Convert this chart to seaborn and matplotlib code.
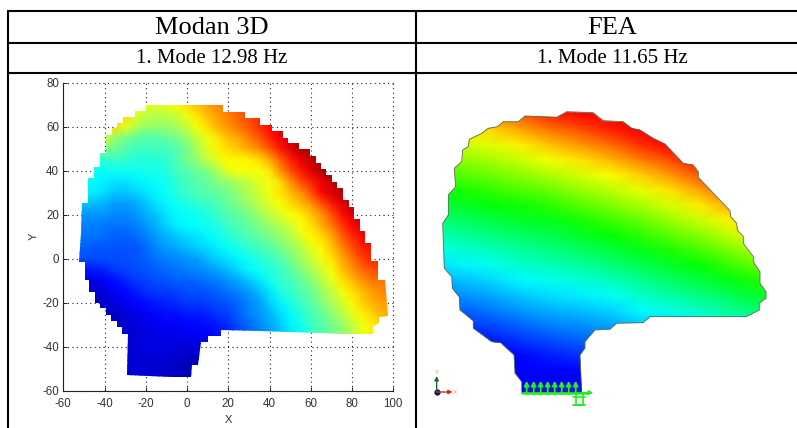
import numpy as np
import pandas as pd
import seaborn as sns
import matplotlib
matplotlib.use("Agg")
import matplotlib.pyplot as plt
from matplotlib.colors import LinearSegmentedColormap
from matplotlib.lines import Line2D
from matplotlib.path import Path

W, H = 797, 428

headers = ["Modan 3D", "FEA"]
subheaders = ["1. Mode 12.98 Hz", "1. Mode 11.65 Hz"]

left_x = list(range(-55, 101, 5))
left_y = list(range(75, -56, -5))
left_values = [
    [60,60,60,60,60,60,60,59,60,60, 62,66,69,72,74,76,78,80,82,84, 86,88,90,92,92,92,92,92,92,92, 92,92],
    [60,60,60,60,60,60,60,59,60,60, 62,66,69,72,74,76,78,80,82,84, 86,88,90,92,92,92,92,92,92,92, 92,92],
    [62,62,62,62,65,66,60,56,55,56, 57,61,65,69,72,75,78,80,83,86, 88,90,92,92,92,92,92,92,92,92, 92,92],
    [60,60,60,62,66,60,55,52,52,52, 54,57,62,66,70,73,76,79,83,87, 90,92,93,93,93,93,93,93,93,93, 93,93],
    [58,58,58,58,52,49,47,46,46,47, 49,53,57,61,65,69,71,75,79,84, 88,92,95,95,95,95,95,95,95,95, 95,95],
    [50,50,50,50,48,46,44,43,44,44, 46,49,54,59,64,66,68,71,74,79, 85,90,95,96,96,96,96,96,96,96, 96,96],
    [42,42,42,42,43,42,41,41,41,42, 45,49,52,57,60,63,63,64,66,71, 78,84,89,93,96,96,96,96,96,96, 96,96],
    [38,38,38,38,39,39,39,40,40,41, 44,46,48,50,55,60,62,62,62,65, 73,80,85,90,95,97,97,97,97,97, 97,97],
    [38,38,37,36,35,35,36,37,38,39, 42,44,46,48,50,52,55,57,60,61, 66,73,80,84,89,93,96,96,96,96, 96,96],
    [36,36,36,34,32,32,33,35,37,39, 41,43,45,46,47,49,52,55,58,61, 65,69,73,79,87,91,94,96,96,96, 96,96],
    [32,32,31,30,28,28,29,32,35,37, 39,40,42,43,45,48,50,53,56,59, 62,66,69,73,79,85,90,94,95,95, 95,95],
    [27,27,27,27,26,26,27,30,32,35, 37,38,39,41,43,45,47,49,53,56, 59,62,64,68,73,79,86,91,94,94, 94,94],
    [25,25,25,24,24,24,25,27,30,33, 36,37,38,39,41,43,45,47,50,52, 55,58,62,65,70,75,82,87,90,90, 90,90],
    [24,24,24,23,22,22,23,25,28,30, 32,34,35,37,39,41,43,45,47,49, 52,55,59,63,66,71,78,83,87,89, 89,89],
    [22,22,21,21,21,21,21,23,26,28, 29,31,33,34,36,38,40,42,44,46, 49,52,55,60,63,68,74,80,84,87, 87,87],
    [20,20,20,20,20,20,21,22,24,25, 26,27,28,31,33,35,37,39,41,43, 45,49,53,57,61,65,71,76,81,84, 84,84],
    [14,14,15,16,18,19,20,21,22,23, 24,25,26,27,29,31,34,37,39,41, 43,46,50,54,58,62,68,73,77,80, 80,80],
    [10,10,10,12,14,16,18,19,20,21, 22,22,23,24,25,27,29,32,35,39, 42,44,47,50,55,60,65,69,73,76, 76,76],
    [7,7,7,9,12,13,15,17,18,18, 19,20,20,21,22,24,26,28,31,35, 40,42,45,48,52,56,61,65,69,72, 74,74],
    [5,5,5,6,9,11,13,14,15,16, 17,18,18,19,20,21,23,26,28,33, 36,40,43,46,50,54,58,63,67,70, 72,72],
    [6,6,6,6,6,8,10,12,13,14, 14,15,15,16,18,19,22,25,27,30, 34,37,41,44,47,51,55,60,64,67, 70,70],
    [7,7,7,7,7,7,9,10,11,12, 12,13,13,14,15,17,20,23,26,29, 32,36,39,43,46,49,52,56,61,64, 68,68],
    [8,8,8,8,8,8,8,9,10,10, 10,11,11,12,14,16,19,22,25,28, 31,35,38,42,45,48,51,55,60,64, 68,68],
    [8,8,8,8,8,8,8,9,9,9, 9,8,9,10,12,14,17,20,23,26, 29,33,36,40,43,46,49,53,58,62, 66,66],
    [8,8,8,8,8,8,8,8,8,8, 7,6,6,7,10,12,15,18,21,24, 27,31,34,38,41,44,47,51,56,60, 64,64],
    [8,8,8,8,8,8,8,8,7,7, 6,4,3,5,8,10,13,16,19,22, 25,29,32,36,39,42,45,49,54,58, 62,62],
    [8,8,8,8,8,8,8,8,7,7, 6,4,3,5,8,10,13,16,19,22, 25,29,32,36,39,42,45,49,54,58, 62,62],
]
left_outline_x = [-20, 17.2, 17.2, 28, 28, 35.3, 35.3, 41, 41, 46.6, 46.6, 49, 49, 54.2, 54.2, 59.6, 59.6,
                  62.3, 62.3, 65, 65, 67.6, 67.6, 70.3, 70.3, 72.8, 72.8, 75.7, 75.7, 78.4, 78.4, 81, 81,
                  83.8, 83.8, 86.5, 86.5, 89.4, 89.4, 92.7, 92.7, 95.9, 97.5, 93.1, 93.1, 90.2, 90.2, 76.5,
                  64.4, 49.9, 35.3, 16.3, 16.3, 10.3, 10.3, 6.7, 5.4, 2.2, 1.9, -7.5, -18.3, -29, -28.7,
                  -31.4, -31.4, -34.2, -34.2, -36.9, -36.9, -39.5, -39.5, -42.2, -42.2, -44.7, -44.7, -47.4,
                  -47.4, -49.7, -49.7, -52.2, -51.4, -50.8, -47.9, -47.9, -45, -45, -42.2, -42.2, -39.5,
                  -39.5, -36.6, -36.6, -33.8, -33.8, -31.2, -31.2, -25.3, -25.3, -20, -20]
left_outline_y = [70, 70, 66.8, 66.8, 63.8, 63.8, 61, 61, 58, 58, 55, 55, 52.4, 52.4, 49.7, 49.7, 46.7,
                  46.7, 43.6, 43.6, 41, 41, 38, 38, 35, 35, 32, 32, 26.7, 26.7, 23.6, 23.6, 18,
                  18, 12.7, 12.7, 7.3, 7.3, -1, -1, -9.7, -9.7, -26, -26.7, -29.4, -30.5, -34.2, -34.2,
                  -33.6, -33.2, -32.7, -32.4, -35, -35, -37.7, -37.7, -48.3, -48.3, -53.6, -53.6, -53.2, -52.7, -34,
                  -34, -30.9, -30.9, -28.3, -28.3, -25.6, -25.6, -22.6, -22.6, -20.3, -20.3, -15, -15,
                  -9.7, -9.7, -1.4, -1.4, 11.5, 25.5, 25.5, 36.5, 36.5, 41.8, 41.8, 47.9, 47.9,
                  56.2, 56.2, 59.2, 59.2, 61.5, 61.5, 64.2, 64.2, 67.1, 67.1, 70]
left_ticks_x = [-60, -40, -20, 0, 20, 40, 60, 80, 100]
left_ticks_y = [80, 60, 40, 20, 0, -20, -40, -60]

right_col_pos = [60, 150, 240, 330, 420, 510, 600, 690, 780, 870, 960, 1050, 1140]
right_row_pos = list(range(120, 1021, 45))
right_values = [
    [.867, .908, .940, .984, 1.0, 1.0, 1.0, 1.0, 1.0, 1.0, 1.0, 1.0, 1.0],
    [.792, .833, .867, .908, .958, .992, 1.0, 1.0, 1.0, 1.0, 1.0, 1.0, 1.0],
    [.724, .758, .787, .835, .883, .919, .967, 1.0, 1.0, 1.0, 1.0, 1.0, 1.0],
    [.667, .697, .721, .762, .808, .850, .892, .950, 1.0, 1.0, 1.0, 1.0, 1.0],
    [.609, .638, .664, .698, .736, .774, .817, .872, .925, .992, 1.0, 1.0, 1.0],
    [.551, .579, .607, .636, .670, .709, .743, .795, .850, .917, .983, 1.0, 1.0],
    [.494, .520, .550, .575, .605, .647, .682, .726, .775, .842, .910, .975, 1.0],
    [.438, .463, .494, .514, .540, .585, .622, .665, .710, .767, .833, .883, .950],
    [.381, .406, .436, .458, .480, .523, .561, .601, .651, .699, .758, .825, .892],
    [.325, .350, .378, .405, .427, .464, .500, .541, .588, .634, .689, .750, .817],
    [.269, .294, .320, .351, .374, .403, .440, .480, .527, .568, .621, .677, .741],
    [.218, .239, .263, .298, .321, .347, .380, .420, .465, .503, .553, .605, .664],
    [.170, .191, .214, .245, .268, .289, .320, .363, .403, .440, .486, .532, .586],
    [.122, .144, .167, .197, .219, .235, .259, .307, .340, .376, .421, .463, .509],
    [.074, .096, .120, .149, .172, .189, .210, .247, .278, .313, .357, .397, .441],
    [.027, .048, .073, .101, .125, .143, .163, .196, .229, .250, .293, .331, .375],
    [.0, .0, .026, .053, .078, .097, .116, .146, .179, .195, .231, .265, .309],
    [.0, .0, .0, .005, .031, .051, .068, .095, .119, .140, .173, .204, .243],
    [.0, .0, .0, .0, .0, .005, .021, .045, .068, .085, .122, .145, .183],
    [.0, .0, .0, .0, .0, .0, .0, .0, .017, .030, .058, .086, .118],
    [.0, .0, .0, .0, .0, .0, .0, .0, .0, .0, .0, .026, .058],
]
right_outline_x = [345, 440, 470, 550, 580, 640, 665, 690, 730, 765, 820, 850, 865, 865, 960, 962, 980, 982,
                   1000, 1000, 1030, 1032, 1050, 1050, 1068, 1068, 1048, 1048, 1008, 720, 700, 620, 600, 555,
                   525, 525, 510, 515, 335, 335, 315, 312, 272, 245, 190, 190, 150, 148, 127, 125, 103, 98, 115,
                   115, 137, 133, 155, 158, 175, 178, 215, 235, 262, 280, 325, 345]
right_outline_y = [168, 172, 155, 158, 182, 185, 205, 210, 235, 252, 310, 315, 335, 352, 452, 470, 490, 510,
                   530, 550, 590, 610, 635, 670, 695, 715, 730, 750, 770, 770, 788, 790, 808, 810,
                   845, 865, 885, 998, 998, 965, 940, 885, 848, 845, 805, 782, 750, 710, 685, 650, 625, 490, 465,
                   405, 380, 325, 305, 270, 260, 238, 220, 205, 200, 185, 185, 168]
support_x = [350, 371, 392, 413, 434, 455, 476, 497]

sns.set_theme(style="white")
plt.rcParams["font.family"] = ["Liberation Sans", "DejaVu Sans"]

fig = plt.figure(figsize=(W / 100, H / 100), dpi=100, facecolor="white")


def axes_px(x0, y0, x1, y1):
    return fig.add_axes([x0 / W, 1 - y1 / H, (x1 - x0) / W, (y1 - y0) / H])


# ---------- left panel ----------
jet_m = LinearSegmentedColormap.from_list(
    "jet_m", [(0, "#00008f"), (.125, "#0000ff"), (.375, "#00ffff"), (.625, "#ffff00"), (.875, "#ff0000"), (1, "#800000")])
axl = axes_px(63.3, 82.7, 393.3, 390.7)
dfl = pd.DataFrame(left_values, index=left_y, columns=left_x)
sns.heatmap(dfl, ax=axl, cmap=jet_m, vmin=0, vmax=100, cbar=False, shading="gouraud",
            xticklabels=False, yticklabels=False)
meshl = axl.collections[0]
xi = lambda v: (np.asarray(v, float) - left_x[0]) / (left_x[1] - left_x[0])
yi = lambda v: (left_y[0] - np.asarray(v, float)) / (left_y[0] - left_y[1])
axl.set_xlim(xi(-60), xi(100))
axl.set_ylim(yi(-60), yi(80))
meshl.set_clip_path(Path(np.column_stack([xi(left_outline_x), yi(left_outline_y)])), axl.transData)
axl.set_xticks(xi(left_ticks_x))
axl.set_xticklabels(left_ticks_x)
axl.set_yticks(yi(left_ticks_y))
axl.set_yticklabels(left_ticks_y)
axl.set_axisbelow(True)
axl.grid(True, linestyle=(0, (1, 3)), color="#222222", linewidth=0.8)
for gl in axl.get_xgridlines() + axl.get_ygridlines():
    gl.set_clip_on(False)
for s in ("top", "right"):
    axl.spines[s].set_visible(False)
for s in ("left", "bottom"):
    axl.spines[s].set_visible(True)
    axl.spines[s].set_color("#222222")
    axl.spines[s].set_linewidth(0.8)
axl.tick_params(axis="both", direction="in", length=3, width=0.7, color="#222222",
                labelsize=8.3, labelcolor="#333333", bottom=True, left=True)
axl.tick_params(axis="x", pad=5)
axl.tick_params(axis="y", pad=3)
axl.set_xlabel("X", fontsize=8, color="#333333", labelpad=4)
axl.set_ylabel("Y", fontsize=8, color="#333333", labelpad=3)

# ---------- right panel ----------
fea = LinearSegmentedColormap.from_list("fea", ["#0000ff", "#00ffff", "#00ff00", "#ffff00", "#ff0000"])
axr = axes_px(410, 75, 797, 428)
dfr = pd.DataFrame(right_values, index=right_row_pos, columns=right_col_pos)
sns.heatmap(dfr, ax=axr, cmap=fea, vmin=0, vmax=1, cbar=False, shading="gouraud",
            xticklabels=False, yticklabels=False)
meshr = axr.collections[0]
rx = lambda v: (np.asarray(v, float) - right_col_pos[0]) / (right_col_pos[1] - right_col_pos[0])
ry = lambda v: (np.asarray(v, float) - right_row_pos[0]) / (right_row_pos[1] - right_row_pos[0])
axr.set_xlim(rx(0), rx(1161))
axr.set_ylim(ry(1104), ry(45))
meshr.set_clip_path(Path(np.column_stack([rx(right_outline_x), ry(right_outline_y)])), axr.transData)
axr.plot(rx(right_outline_x), ry(right_outline_y), color="#5a6a50", lw=0.6)
axr.axis("off")

# supports
green = "#22ee22"
axr.plot(rx([335, 530]), ry([998, 998]), color=green, lw=1.8, zorder=4)
for sx in support_x:
    axr.annotate("", xy=(rx(sx), ry(962)), xytext=(rx(sx), ry(1003)), zorder=5,
                 arrowprops=dict(arrowstyle="-|>", color=green, lw=1.4, mutation_scale=7, shrinkA=0, shrinkB=0))
axr.plot(rx(np.array(support_x) + 10), ry([986] * len(support_x)), ls="none", marker="o", ms=2.4,
         color="#1020b0", zorder=6)
axr.annotate("", xy=(rx(550), ry(998)), xytext=(rx(520), ry(998)),
             arrowprops=dict(arrowstyle="-|>", color=green, lw=1.2, mutation_scale=6, shrinkA=0, shrinkB=0))
for sx in (497, 518):
    axr.plot(rx([sx, sx]), ry([1000, 1034]), color=green, lw=1.2)
axr.plot(rx([490, 525]), ry([1034, 1034]), color=green, lw=1.4)
axr.plot(rx([490, 525]), ry([1012, 1012]), color=green, lw=1.2)
# triad
axr.annotate("", xy=(rx(80), ry(948)), xytext=(rx(80), ry(996)),
             arrowprops=dict(arrowstyle="-|>", color="#1c6a30", lw=1, mutation_scale=6, shrinkA=0, shrinkB=0))
axr.annotate("", xy=(rx(128), ry(996)), xytext=(rx(80), ry(996)),
             arrowprops=dict(arrowstyle="-|>", color="#c03030", lw=1, mutation_scale=6, shrinkA=0, shrinkB=0))
axr.plot(rx([80]), ry([996]), marker="o", ms=3.5, color="#101070")
axr.text(rx(80), ry(937), "Y", fontsize=4.5, color="#80b090", ha="center", va="center")
axr.text(rx(134), ry(996), "X", fontsize=4.5, color="#d89090", ha="center", va="center")

# ---------- table ----------
line_kw = dict(color="black", lw=1.5, transform=fig.transFigure, solid_capstyle="butt")
for y in (11, 43, 73):
    fig.add_artist(Line2D([7 / W, 797 / W], [1 - y / H] * 2, **line_kw))
for x in (8, 416):
    fig.add_artist(Line2D([x / W] * 2, [1 - 10 / H, 0], **line_kw))

for cx, head, sub in zip((212, 612), headers, subheaders):
    fig.text(cx / W, 1 - 28.5 / H, head, family="Liberation Serif", fontsize=19, color="black",
             ha="center", va="center")
    fig.text(cx / W, 1 - 58.5 / H, sub, family="Liberation Serif", fontsize=15, color="black",
             ha="center", va="center")

fig.savefig("out.png", dpi=100, facecolor="white")
